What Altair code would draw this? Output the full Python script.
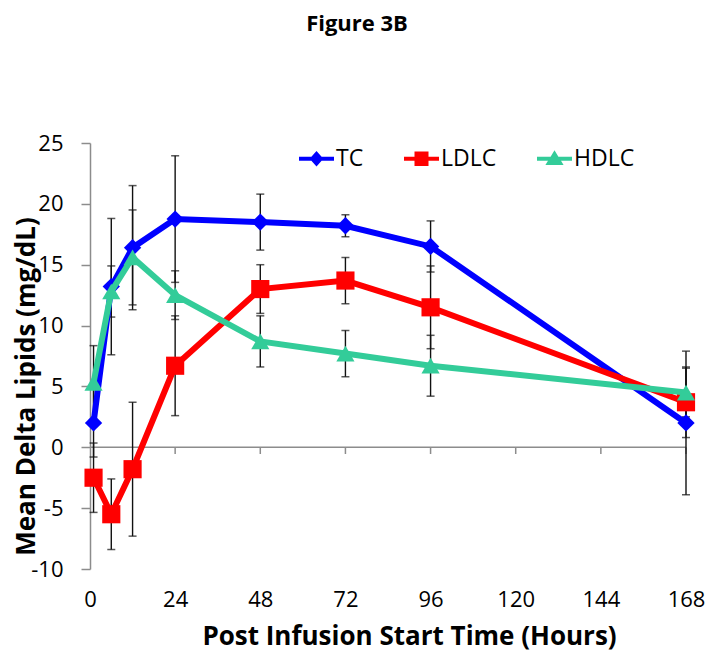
import altair as alt
import pandas as pd

# ---------------- data ----------------
times = [1, 6, 12, 24, 48, 72, 96, 168]
tc = [2.0, 13.2, 16.4, 18.75, 18.5, 18.2, 16.5, 2.0]
tc_err = [2.8, 5.6, 5.1, 5.2, 2.3, 0.9, 2.1, 5.9]
ldlc = [-2.5, -5.5, -1.8, 6.7, 13.0, 13.7, 11.5, 3.7]
ldlc_err = [2.85, 2.9, 5.5, 4.1, 2.0, 1.9, 3.4, 2.9]
hdlc = [5.3, 12.8, 15.6, 12.5, 8.7, 7.7, 6.7, 4.5]
hdlc_err = [3.05, 2.1, 3.9, 2.0, 2.1, 1.9, 2.5, 2.0]

series_names = ["TC", "LDLC", "HDLC"]
series_values = [tc, ldlc, hdlc]
series_errors = [tc_err, ldlc_err, hdlc_err]
colors = ["#0000FF", "#FF0000", "#33CC99"]
shapes = ["diamond", "square", "triangle-up"]

x_ticks = [0, 24, 48, 72, 96, 120, 144, 168]
y_ticks = [-10, -5, 0, 5, 10, 15, 20, 25]

# legend symbols: a line segment with the marker on it
legend_paths = [
    "M-2.5,-0.3L-0.73,-0.3L0,-1.1L0.73,-0.3L2.5,-0.3L2.5,0.3L0.73,0.3L0,1.1L-0.73,0.3L-2.5,0.3Z",
    "M-2.5,-0.3L-1,-0.3L-1,-1.05L1,-1.05L1,-0.3L2.5,-0.3L2.5,0.3L1,0.3L1,1.05L-1,1.05L-1,0.3L-2.5,0.3Z",
    "M-2.5,-0.3L-0.56,-0.3L0,-1.2L0.56,-0.3L2.5,-0.3L2.5,0.3L0.93,0.3L1.3,0.9L-1.3,0.9L-0.93,0.3L-2.5,0.3Z",
]

rows = []
for name, vals, errs in zip(series_names, series_values, series_errors):
    for t, v, e in zip(times, vals, errs):
        rows.append({"series": name, "time": t, "value": v, "lo": v - e, "hi": v + e})
df = pd.DataFrame(rows)

FONT = "Open Sans"
GRAY = "#8C8C8C"

x_scale = alt.Scale(domain=[0, 168], nice=False, zero=False)
y_scale = alt.Scale(domain=[-10, 25], nice=False, zero=False)

x_axis = alt.Axis(
    values=x_ticks, domain=False, ticks=False, grid=False, labelFlush=False,
    labelFont=FONT, labelFontSize=22, labelColor="#000000", labelPadding=20,
    title="Post Infusion Start Time (Hours)", titleFont=FONT, titleFontSize=26,
    titleFontWeight="bold", titleColor="#000000",
    titleX=319, titleY=75, titleBaseline="alphabetic", titleAlign="center",
)
y_axis = alt.Axis(
    values=y_ticks, domain=True, domainColor=GRAY, domainWidth=1.5, labelFlush=False,
    ticks=True, tickColor=GRAY, tickSize=9, tickWidth=1.5, grid=False,
    labelFont=FONT, labelFontSize=22, labelColor="#000000", labelPadding=18, labelAlign="right",
    labelExpr="'' + datum.value",
    title="Mean Delta Lipids (mg/dL)", titleFont=FONT, titleFontSize=26,
    titleFontWeight="bold", titleColor="#000000",
    titleX=-56, titleY=243, titleAngle=-90, titleBaseline="alphabetic", titleAlign="center",
)


def X(field):
    return alt.X(field, scale=x_scale, axis=x_axis)


def Y(field):
    return alt.Y(field, scale=y_scale, axis=y_axis)


base = alt.Chart(df)

# horizontal axis line at y = 0
zero_df = pd.DataFrame({"x": [x_ticks[0]], "x2": [x_ticks[-1]], "y": [0]})
zero_line = alt.Chart(zero_df).mark_rule(color=GRAY, strokeWidth=1.5).encode(
    x=X("x:Q"), x2="x2:Q", y=Y("y:Q"),
)

tick_df = pd.DataFrame({"x": x_ticks[1:], "y": [0] * (len(x_ticks) - 1), "y2": [-0.55] * (len(x_ticks) - 1)})
x_tick_marks = alt.Chart(tick_df).mark_rule(color=GRAY, strokeWidth=1.5).encode(
    x=X("x:Q"), y=Y("y:Q"), y2="y2:Q"
)

err_rules = base.mark_rule(color="#111111", strokeWidth=1.4).encode(
    x=X("time:Q"), y=Y("lo:Q"), y2="hi:Q"
)
cap_lo = base.mark_tick(color="#111111", orient="horizontal", size=8, thickness=1.5).encode(
    x=X("time:Q"), y=Y("lo:Q")
)
cap_hi = base.mark_tick(color="#111111", orient="horizontal", size=8, thickness=1.5).encode(
    x=X("time:Q"), y=Y("hi:Q")
)

layers = [zero_line, x_tick_marks, err_rules, cap_lo, cap_hi]

for name, col, shp in zip(series_names, colors, shapes):
    sub = base.transform_filter(alt.datum.series == name)
    layers.append(
        sub.mark_line(color=col, strokeWidth=6).encode(x=X("time:Q"), y=Y("value:Q"))
    )
    layers.append(
        sub.mark_point(shape=shp, filled=True, color=col, opacity=1,
                       size=330 if shp != "diamond" else 300).encode(x=X("time:Q"), y=Y("value:Q"))
    )

legend = alt.Legend(
    orient="none", legendX=215, legendY=4, direction="horizontal", title=None,
    labelFont=FONT, labelFontSize=23, labelColor="#000000", labelOffset=8,
    columnPadding=40, padding=0, symbolStrokeWidth=0, symbolOpacity=1, symbolSize=196,
)
legend_layer = base.mark_point(filled=True, opacity=0, size=196).encode(
    x=X("time:Q"),
    y=Y("value:Q"),
    color=alt.Color("series:N", scale=alt.Scale(domain=series_names, range=colors), legend=legend),
    shape=alt.Shape("series:N", scale=alt.Scale(domain=series_names, range=legend_paths), legend=legend),
)
layers.append(legend_layer)

chart = alt.layer(*layers).properties(
    width=596,
    height=426,
    autosize=alt.AutoSizeParams(type="none"),
    padding={"left": 82, "top": 135, "right": 20, "bottom": 82},
    title=alt.TitleParams(
        "Figure 3B", font=FONT, fontSize=22, fontWeight="bold", color="#000000",
        anchor="middle", dx=-31, offset=79, baseline="alphabetic",
    ),
).configure_view(stroke=None)

chart.save("out.html", embed_options={"renderer": "svg", "actions": False})
